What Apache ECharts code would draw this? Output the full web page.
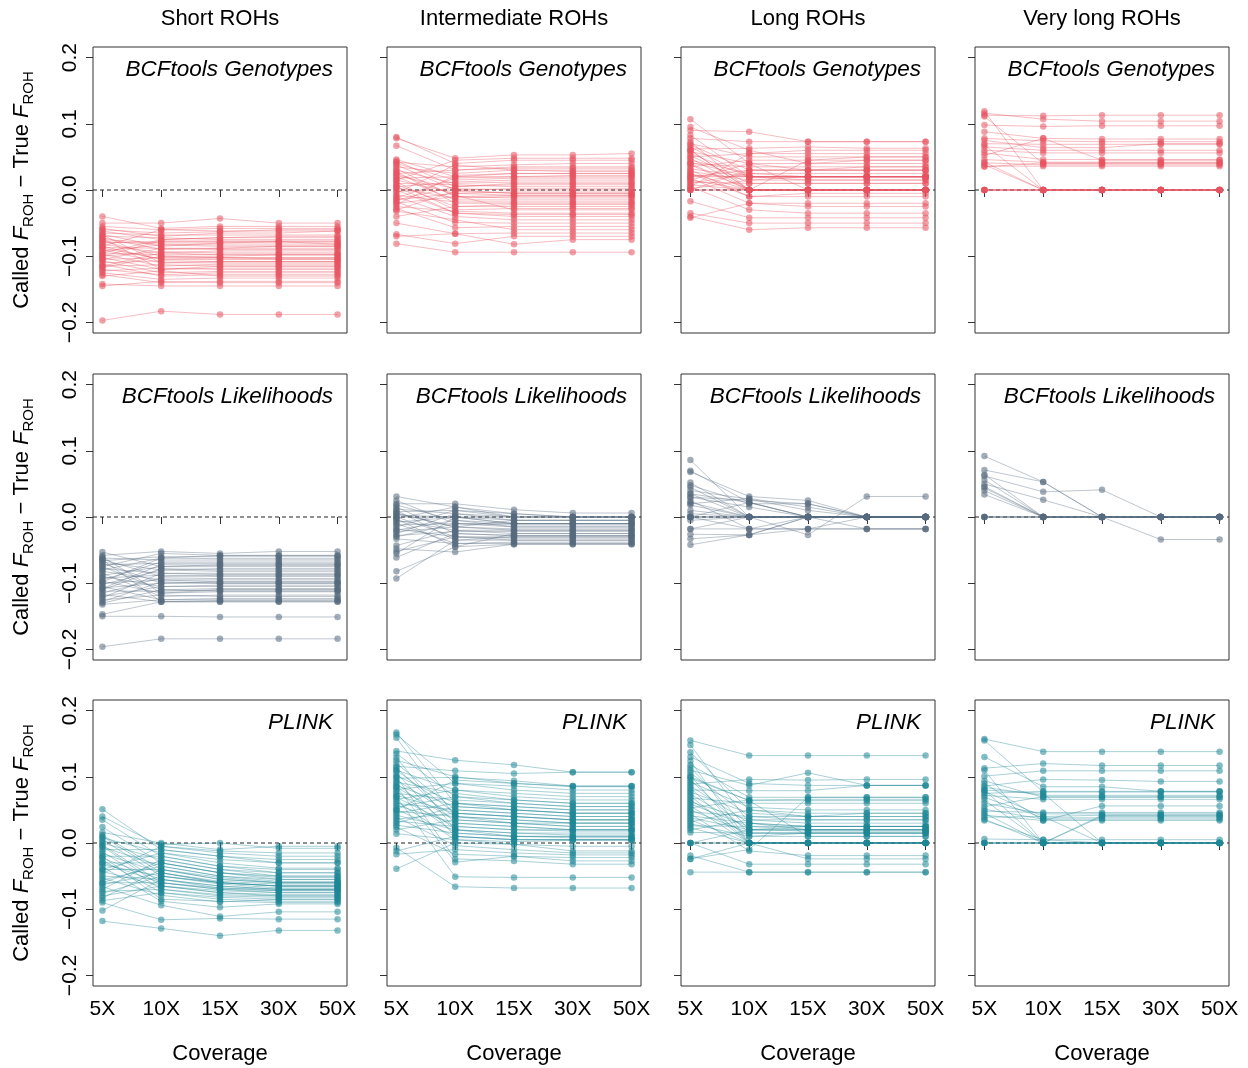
<!DOCTYPE html>
<html>
<head>
<meta charset="utf-8">
<script src="https://cdn.jsdelivr.net/npm/echarts@6/dist/echarts.min.js"></script>
<style>
html, body { margin: 0; padding: 0; background: #fff; }
#chart { width: 1248px; height: 1068px; }
</style>
</head>
<body>
<div id="chart"></div>
<script>
// categories / labels
var coverage = ['5X', '10X', '15X', '30X', '50X'];
var rohClasses = ['Short ROHs', 'Intermediate ROHs', 'Long ROHs', 'Very long ROHs'];
var methods = ['BCFtools Genotypes', 'BCFtools Likelihoods', 'PLINK'];
var yTicks = [-0.2, -0.1, 0, 0.1, 0.2];

// Called F_ROH - True F_ROH, one row per individual: [5X, 10X, 15X, 30X, 50X]
var gtShort = [
  [-.040,-.058,-.055,-.055,-.055],[-.050,-.050,-.043,-.050,-.050],[-.055,-.060,-.058,-.058,-.058],
  [-.058,-.070,-.065,-.065,-.062],[-.060,-.065,-.063,-.060,-.060],[-.062,-.075,-.072,-.072,-.072],
  [-.065,-.068,-.068,-.068,-.068],[-.067,-.085,-.080,-.078,-.078],[-.070,-.072,-.075,-.075,-.075],
  [-.072,-.090,-.088,-.085,-.085],[-.075,-.080,-.080,-.080,-.080],[-.077,-.100,-.100,-.098,-.098],
  [-.080,-.078,-.078,-.078,-.082],[-.082,-.095,-.092,-.092,-.092],[-.085,-.105,-.105,-.105,-.105],
  [-.087,-.088,-.088,-.088,-.088],[-.090,-.110,-.108,-.108,-.108],[-.092,-.083,-.085,-.085,-.085],
  [-.095,-.098,-.097,-.097,-.097],[-.097,-.115,-.112,-.112,-.112],[-.100,-.093,-.095,-.095,-.095],
  [-.102,-.120,-.118,-.118,-.118],[-.105,-.102,-.102,-.102,-.102],[-.107,-.125,-.123,-.123,-.123],
  [-.110,-.107,-.108,-.108,-.108],[-.112,-.130,-.128,-.128,-.128],[-.115,-.113,-.115,-.115,-.115],
  [-.117,-.100,-.102,-.104,-.104],[-.120,-.128,-.125,-.125,-.125],[-.122,-.118,-.120,-.120,-.120],
  [-.125,-.135,-.133,-.133,-.133],[-.128,-.140,-.138,-.138,-.138],[-.130,-.122,-.130,-.130,-.130],
  [-.142,-.145,-.145,-.145,-.145],[-.145,-.138,-.140,-.140,-.140],[-.085,-.060,-.062,-.062,-.062],
  [-.095,-.075,-.072,-.070,-.070],[-.105,-.088,-.090,-.090,-.090],[-.115,-.095,-.098,-.098,-.098],
  [-.068,-.110,-.110,-.110,-.110],[-.073,-.120,-.115,-.115,-.115],[-.197,-.183,-.188,-.188,-.188],
  [-.078,-.082,-.083,-.083,-.083],[-.088,-.104,-.103,-.103,-.103],[-.100,-.077,-.077,-.077,-.077]
];
var gtInter = [
  [.080,.040,.045,.045,.045],[.078,.048,.053,.053,.055],[.067,.030,.035,.035,.035],[.046,.020,.025,.025,.025],
  [.044,.005,.010,.010,.010],[.042,.035,.038,.040,.040],[.040,.015,.018,.018,.018],[.038,.000,-.005,-.005,-.005],
  [.035,.025,.030,.030,.030],[.032,-.010,-.008,-.008,-.008],[.030,.010,.012,.012,.012],[.028,-.020,-.020,-.020,-.020],
  [.025,.030,.033,.033,.033],[.022,.002,.000,.000,.000],[.020,-.015,-.015,-.015,-.015],[.018,.020,.020,.022,.022],
  [.015,-.005,-.003,-.003,-.003],[.012,-.030,-.028,-.028,-.028],[.010,.008,.005,.005,.005],[.008,-.025,-.022,-.022,-.022],
  [.005,.012,.015,.015,.015],[.003,-.012,-.010,-.010,-.010],[.000,-.035,-.037,-.037,-.037],[-.002,.000,.002,.002,.002],
  [-.005,.038,.030,.028,.028],[-.008,-.018,-.018,-.018,-.018],[-.010,-.040,-.045,-.045,-.045],[-.012,.018,.020,.020,.020],
  [-.015,-.005,-.008,-.008,-.008],[-.018,-.049,-.050,-.050,-.050],[-.020,-.010,-.012,-.012,-.012],[-.022,.022,.025,.025,.025],
  [-.025,-.032,-.035,-.035,-.035],[-.028,-.057,-.055,-.055,-.055],[-.030,-.002,-.005,-.005,-.005],[-.032,-.045,-.060,-.060,-.060],
  [-.050,-.066,-.065,-.065,-.065],[-.067,-.081,-.070,-.070,-.070],[-.070,-.066,-.082,-.075,-.075],[-.081,-.094,-.094,-.094,-.094],
  [.015,.045,.048,.048,.048],[-.040,-.025,-.025,-.025,-.025],[.005,-.035,-.040,-.040,-.040],[.025,-.008,-.030,-.030,-.030],
  [-.015,.005,.008,.008,.008]
];
var gtLong = [
  [.107,.040,.030,.030,.030],[.095,.060,.040,.040,.040],[.090,.088,.073,.073,.073],[.083,.020,.020,.020,.020],
  [.078,.073,.073,.073,.073],[.073,.000,.000,.000,.000],[.070,.050,.050,.050,.050],[.068,.030,.030,.035,.035],
  [.065,.020,.020,.020,.020],[.062,.063,.065,.063,.063],[.060,.000,.000,.000,.000],[.058,.040,.040,.045,.045],
  [.055,.020,.020,.020,.020],[.052,.010,.010,.010,.010],[.050,.055,.055,.055,.055],[.048,.000,.000,.000,.000],
  [.045,.025,.025,.025,.025],[.042,.020,.015,.015,.015],[.040,.035,.035,.035,.035],[.038,.000,.000,.000,.000],
  [.035,.045,.045,.045,.045],[.032,.020,.020,.020,.020],[.030,-.010,-.010,-.010,-.010],[.028,.015,.015,.015,.015],
  [.025,.000,.000,.000,.000],[.022,.020,.020,.020,.020],[.020,.030,.030,.030,.030],[.018,-.020,-.020,-.020,-.020],
  [.015,.000,.000,.000,.000],[.012,.010,.010,.010,.010],[.010,.025,.020,.020,.020],[.008,.000,.000,.000,.000],
  [.005,-.030,-.035,-.035,-.035],[.002,.015,.020,.020,.020],[.000,.000,.000,.000,.000],[.000,.000,.000,.000,.000],
  [.000,.030,.030,.030,.030],[-.017,-.042,-.042,-.042,-.042],[-.035,-.050,-.050,-.050,-.050],[-.040,-.060,-.057,-.057,-.057],
  [-.042,-.020,-.025,-.025,-.025],[.040,.000,.000,.000,.000],[.025,-.010,-.005,-.005,-.005],[.005,.055,.060,.060,.060],
  [.060,.000,.045,.050,.050],[.015,.040,.000,.000,.000],[.020,.020,.020,.020,.020]
];
var gtVlong = [
  [.119,.000,.000,.000,.000],[.116,.107,.104,.104,.104],[.113,.112,.113,.113,.113],[.111,.040,.040,.040,.040],
  [.098,.096,.097,.097,.097],[.088,.078,.077,.077,.077],[.078,.074,.073,.073,.073],[.075,.064,.064,.070,.070],
  [.070,.069,.069,.069,.069],[.068,.000,.000,.000,.000],[.065,.060,.060,.060,.060],[.060,.056,.056,.056,.056],
  [.056,.046,.046,.046,.046],[.052,.078,.045,.045,.045],[.046,.042,.042,.042,.042],[.042,.000,.000,.000,.000],
  [.041,.038,.038,.038,.038],[.038,.000,.000,.000,.000],[.036,.036,.036,.036,.036],[.035,.041,.041,.041,.041],
  [.000,.000,.000,.000,.000],[.000,.000,.000,.000,.000],[.000,.000,.000,.000,.000],[.000,.000,.000,.000,.000],
  [.000,.000,.000,.000,.000]
];
var blShort = [
  [-.053,-.075,-.072,-.072,-.072],[-.058,-.052,-.055,-.052,-.052],[-.062,-.065,-.065,-.065,-.065],
  [-.064,-.090,-.088,-.088,-.088],[-.066,-.060,-.060,-.060,-.060],[-.068,-.080,-.078,-.078,-.078],
  [-.070,-.100,-.098,-.098,-.098],[-.072,-.070,-.070,-.070,-.070],[-.075,-.110,-.108,-.108,-.108],
  [-.078,-.085,-.085,-.085,-.085],[-.080,-.062,-.058,-.058,-.058],[-.082,-.095,-.095,-.095,-.095],
  [-.085,-.120,-.118,-.118,-.118],[-.088,-.075,-.075,-.075,-.075],[-.090,-.105,-.103,-.103,-.103],
  [-.092,-.088,-.090,-.090,-.090],[-.095,-.068,-.068,-.068,-.068],[-.097,-.115,-.113,-.113,-.113],
  [-.100,-.095,-.098,-.098,-.098],[-.102,-.080,-.082,-.082,-.082],[-.105,-.125,-.123,-.123,-.123],
  [-.107,-.100,-.100,-.100,-.100],[-.110,-.078,-.080,-.080,-.080],[-.112,-.112,-.110,-.110,-.110],
  [-.115,-.092,-.093,-.093,-.093],[-.117,-.128,-.128,-.128,-.128],[-.120,-.105,-.105,-.105,-.105],
  [-.122,-.085,-.087,-.087,-.087],[-.125,-.118,-.120,-.120,-.120],[-.128,-.098,-.100,-.100,-.100],
  [-.130,-.110,-.112,-.112,-.112],[-.132,-.125,-.125,-.125,-.125],[-.147,-.128,-.128,-.128,-.128],
  [-.150,-.150,-.151,-.151,-.151],[-.196,-.184,-.184,-.184,-.184],[-.060,-.115,-.110,-.110,-.110],
  [-.065,-.128,-.126,-.126,-.126],[-.075,-.055,-.058,-.058,-.058],[-.098,-.062,-.063,-.063,-.063],
  [-.108,-.072,-.073,-.073,-.073]
];
var blInter = [
  [.031,.015,.005,.000,.000],[.025,-.010,-.015,-.015,-.015],[.020,.020,.011,.006,.006],[.015,-.025,-.028,-.028,-.028],
  [.012,.005,.000,.000,.000],[.010,-.035,-.035,-.035,-.035],[.008,.010,.005,.000,.000],[.005,-.015,-.020,-.020,-.020],
  [.003,.000,-.010,-.010,-.010],[.000,-.030,-.030,-.030,-.030],[.000,.000,.000,.000,.000],[-.002,.015,.000,.000,.000],
  [-.005,-.020,-.025,-.025,-.025],[-.008,.000,-.005,-.005,-.005],[-.010,-.040,-.040,-.040,-.040],[-.012,-.010,-.010,-.010,-.010],
  [-.015,.010,.000,.000,.000],[-.018,-.030,-.032,-.032,-.032],[-.020,-.005,-.010,-.010,-.010],[-.022,-.015,-.018,-.018,-.018],
  [-.025,.005,-.005,-.005,-.005],[-.028,-.022,-.022,-.022,-.022],[-.030,-.010,-.012,-.012,-.012],[-.033,-.040,-.038,-.038,-.038],
  [-.043,-.020,-.020,-.020,-.020],[-.048,-.053,-.041,-.041,-.041],[-.052,-.030,-.035,-.035,-.035],[-.055,.000,-.010,-.010,-.010],
  [-.061,-.025,-.028,-.028,-.028],[-.082,-.045,-.041,-.041,-.041],[-.093,-.035,-.030,-.030,-.030],[.018,-.005,-.015,-.015,-.015],
  [-.003,-.045,-.025,-.025,-.025],[.006,-.015,-.005,-.005,-.005]
];
var blLong = [
  [.086,.000,.000,.000,.000],[.070,.022,.000,.000,.000],[.068,.031,.025,.000,.000],[.052,.000,.000,.000,.000],
  [.048,.020,.020,.000,.000],[.045,.000,.000,.000,.000],[.040,.027,.010,.000,.000],[.035,.000,.000,.000,.000],
  [.030,.015,.000,.000,.000],[.025,-.018,.000,.000,.000],[.022,.000,.000,.000,.000],[.020,.028,.015,.000,.000],
  [.018,.000,.000,.000,.000],[.005,.000,.000,.000,.000],[.000,.000,.000,.000,.000],[.000,.000,.000,.000,.000],
  [.000,.022,.000,.000,.000],[-.005,.000,.000,.000,.000],[-.018,-.018,-.018,-.018,-.018],[-.026,-.027,.000,.000,.000],
  [-.042,-.027,.000,.000,.000],[.010,.000,-.027,.031,.031],[.000,-.018,-.018,-.018,-.018],[-.018,.000,.000,-.018,-.018],
  [.035,.022,.000,.000,.000],[.030,.025,.020,.000,.000],[-.033,-.027,-.018,.000,.000],[.000,.000,.000,.000,.000]
];
var blVlong = [
  [.092,.053,.000,.000,.000],[.071,.053,.000,.000,.000],[.064,.000,.000,.000,.000],[.062,.038,.041,.000,.000],
  [.056,.000,.000,.000,.000],[.050,.026,.000,-.034,-.034],[.046,.000,.000,.000,.000],[.044,.000,.000,.000,.000],
  [.040,.000,.000,.000,.000],[.034,.000,.000,.000,.000],[.000,.000,.000,.000,.000],[.000,.000,.000,.000,.000],
  [.000,.000,.000,.000,.000],[.000,.000,.000,.000,.000]
];
var plShort = [
  [.051,-.010,-.020,-.025,-.025],[.040,-.005,-.012,-.015,-.015],[.035,-.020,-.035,-.040,-.040],[.024,-.030,-.045,-.050,-.050],
  [.016,.000,-.010,-.005,-.005],[.012,-.040,-.055,-.060,-.060],[.008,-.015,-.025,-.030,-.030],[.005,-.050,-.060,-.065,-.065],
  [.002,-.002,.000,-.008,-.008],[.000,-.025,-.040,-.045,-.045],[-.003,-.060,-.070,-.072,-.072],[-.006,-.035,-.050,-.055,-.055],
  [-.010,-.010,-.020,-.030,-.030],[-.013,-.070,-.080,-.082,-.082],[-.016,-.045,-.060,-.065,-.065],[-.020,-.020,-.035,-.045,-.045],
  [-.023,-.055,-.065,-.070,-.070],[-.026,-.075,-.085,-.088,-.088],[-.030,-.030,-.045,-.055,-.055],[-.033,-.050,-.062,-.068,-.068],
  [-.036,-.088,-.097,-.092,-.092],[-.040,-.040,-.055,-.060,-.060],[-.043,-.065,-.075,-.078,-.078],[-.046,-.005,-.015,-.020,-.020],
  [-.050,-.055,-.068,-.072,-.072],[-.053,-.079,-.089,-.085,-.085],[-.056,-.035,-.050,-.058,-.058],[-.060,-.060,-.070,-.075,-.075],
  [-.063,-.045,-.058,-.062,-.062],[-.066,-.094,-.111,-.104,-.104],[-.070,-.025,-.040,-.050,-.050],[-.073,-.070,-.078,-.080,-.080],
  [-.076,-.050,-.060,-.065,-.065],[-.080,-.065,-.072,-.075,-.075],[-.083,-.040,-.052,-.060,-.060],[-.087,-.075,-.082,-.085,-.085],
  [-.102,-.055,-.065,-.070,-.070],[-.118,-.129,-.140,-.132,-.132],[-.090,-.116,-.114,-.115,-.115],[-.020,-.085,-.088,-.090,-.090],
  [-.040,-.015,-.030,-.038,-.038],[-.005,-.065,-.075,-.080,-.080],[-.060,-.030,-.045,-.052,-.052],[.010,-.045,-.060,-.065,-.065],
  [-.030,-.060,-.068,-.070,-.070]
];
var plInter = [
  [.167,.060,.050,.045,.045],[.164,.090,.080,.075,.075],[.159,.040,.035,.030,.030],[.139,.125,.118,.107,.107],
  [.135,.070,.060,.055,.055],[.129,.020,.015,.012,.012],[.125,.100,.090,.085,.085],[.120,.050,.045,.040,.040],
  [.116,.109,.105,.107,.107],[.114,.030,.025,.020,.020],[.110,.080,.070,.065,.065],[.106,.010,.005,.005,.005],
  [.102,.060,.055,.050,.050],[.098,.099,.094,.086,.086],[.095,.040,.030,.025,.025],[.092,.075,.065,.060,.060],
  [.090,.020,.010,.010,.010],[.087,.055,.050,.045,.045],[.084,.035,.030,.030,.030],[.081,.090,.086,.080,.080],
  [.078,.015,.010,.008,.008],[.075,.065,.060,.055,.055],[.072,.045,.040,.035,.035],[.069,.025,.020,.018,.018],
  [.066,.080,.075,.070,.070],[.063,.005,-.002,-.012,-.012],[.060,.050,.045,.040,.040],[.057,.030,.025,.020,.020],
  [.054,.070,.065,.060,.060],[.051,.010,.005,.005,.005],[.048,.040,.035,.030,.030],[.045,.060,.055,.050,.050],
  [.042,.020,.015,.015,.015],[.039,-.004,-.010,-.015,-.015],[.036,.045,.040,.035,.035],[.033,.025,.020,.020,.020],
  [.030,.055,.050,.045,.045],[.027,.015,.010,.010,.010],[.024,-.017,-.020,-.022,-.022],[.020,.035,.030,.025,.025],
  [.014,.005,.002,.004,.004],[.100,-.024,-.027,-.032,-.032],[.085,-.029,-.020,-.027,-.027],[.070,-.051,-.052,-.052,-.052],
  [-.007,-.066,-.068,-.068,-.068],[-.012,.010,.005,.005,.005],[-.017,-.010,-.015,-.018,-.018],[-.039,.000,-.002,-.005,-.005],
  [.050,.095,.090,.086,.086],[.110,.045,.040,.035,.035]
];
var plLong = [
  [.155,.132,.132,.132,.132],[.148,.030,.020,.020,.020],[.137,.050,.040,.040,.040],[.124,.000,.000,.000,.000],
  [.118,.069,.069,.069,.069],[.114,.020,.020,.020,.020],[.110,.087,.106,.087,.087],[.106,.040,.035,.035,.035],
  [.102,.000,.000,.000,.000],[.098,.064,.064,.064,.064],[.095,.015,.015,.015,.015],[.092,.054,.050,.050,.050],
  [.089,.096,.095,.096,.096],[.086,.030,.025,.025,.025],[.083,.000,-.024,-.024,-.024],[.080,.079,.079,.087,.087],
  [.077,.045,.040,.040,.040],[.074,.020,.018,.018,.018],[.071,.000,.000,.000,.000],[.068,.060,.060,.060,.060],
  [.065,.010,.015,.015,.015],[.062,.035,.030,.030,.030],[.059,.025,.020,.020,.020],[.056,.000,.000,.000,.000],
  [.053,.065,.066,.066,.066],[.050,.015,.015,.015,.015],[.047,.040,.040,.045,.045],[.044,-.012,-.019,-.019,-.019],
  [.041,.030,.025,.025,.025],[.038,.020,.020,.020,.020],[.035,.000,.000,.000,.000],[.032,.050,.045,.045,.045],
  [.029,.010,.010,.010,.010],[.026,.025,.025,.025,.025],[.023,.000,.000,.000,.000],[.020,.035,.035,.035,.035],
  [.016,.015,.015,.015,.015],[.000,.000,.000,.000,.000],[.000,.000,.000,.000,.000],[.000,.020,.025,.025,.025],
  [.000,-.032,-.032,-.032,-.032],[-.019,-.044,-.044,-.044,-.044],[-.024,.000,.000,.000,.000],[-.024,-.010,.069,.069,.069],
  [-.044,-.044,-.044,-.044,-.044],[.130,.090,.087,.087,.087],[.100,.064,.010,.010,.010]
];
var plVlong = [
  [.157,.138,.138,.138,.138],[.155,.077,.077,.077,.077],[.130,.085,.085,.078,.078],[.113,.120,.117,.117,.117],
  [.110,.000,.000,.000,.000],[.101,.109,.109,.109,.109],[.094,.069,.069,.069,.069],[.090,.034,.056,.056,.056],
  [.086,.096,.095,.093,.093],[.084,.072,.072,.072,.072],[.080,.000,.040,.040,.040],[.078,.040,.000,.000,.000],
  [.075,.078,.078,.078,.078],[.072,.066,.066,.066,.066],[.069,.038,.038,.038,.038],[.065,.000,.000,.000,.000],
  [.060,.044,.044,.044,.044],[.055,.070,.070,.070,.070],[.051,.036,.036,.036,.036],[.048,.046,.046,.046,.046],
  [.045,.000,.000,.000,.000],[.042,.034,.034,.034,.034],[.039,.040,.042,.042,.042],[.036,.000,.000,.000,.000],
  [.034,.005,.000,.000,.000],[.006,.005,.005,.005,.005],[.000,.000,.000,.000,.000],[.000,.000,.000,.000,.000],
  [.000,.000,.042,.042,.042],[.080,.075,.000,.000,.000],[.000,.000,.000,.000,.000]
];

var panels = [
  [gtShort, gtInter, gtLong, gtVlong],
  [blShort, blInter, blLong, blVlong],
  [plShort, plInter, plLong, plVlong]
];
var rowColors = ['232,82,94', '85,105,125', '30,135,150'];

var font = '"Liberation Sans", Arial, Helvetica, sans-serif';

function fmtY(v) {
  if (Math.abs(v) < 1e-9) return '0.0';
  return (v < 0 ? '\u2212' : '') + Math.abs(v).toFixed(1);
}

function buildOption() {
  var grids = [], xAxes = [], yAxes = [], series = [], texts = [];
  var W = 254, H = 286;

  for (var r = 0; r < 3; r++) {
    for (var c = 0; c < 4; c++) {
      var idx = r * 4 + c;
      var gx = 93 + c * 294;
      var gy = 47 + Math.round(r * 326.5);
      grids.push({ left: gx, top: gy, width: W, height: H, show: true,
        borderColor: '#333', borderWidth: 1, backgroundColor: 'transparent' });

      xAxes.push({
        type: 'value', gridIndex: idx, min: 0.84, max: 5.16,
        axisLine: { show: false }, splitLine: { show: false },
        axisTick: { show: true, length: 7, customValues: [1, 2, 3, 4, 5], lineStyle: { color: '#333' } },
        axisLabel: { show: r === 2, customValues: [1, 2, 3, 4, 5], margin: 13,
          formatter: function (v) { return coverage[Math.round(v) - 1]; },
          fontSize: 21, color: '#000', fontFamily: font },
        name: r === 2 ? 'Coverage' : '', nameLocation: 'middle', nameGap: 57,
        nameTextStyle: { fontSize: 22, color: '#000', fontFamily: font }
      });

      yAxes.push({
        type: 'value', gridIndex: idx, min: -0.216, max: 0.216,
        axisLine: { show: false }, splitLine: { show: false },
        axisTick: { show: true, length: 7, customValues: yTicks, lineStyle: { color: '#333' } },
        axisLabel: { show: c === 0, customValues: yTicks, rotate: 90, margin: 12,
          formatter: fmtY, fontSize: 21, color: '#000', fontFamily: font },
        name: c === 0 ? '{a|Called }{b|F}{s|ROH}{a| \u2212 True }{b|F}{s|ROH}' : '',
        nameLocation: 'middle', nameRotate: 90, nameGap: 57,
        nameTextStyle: {
          color: '#000', fontFamily: font,
          rich: {
            a: { fontSize: 22, lineHeight: 28, verticalAlign: 'middle', color: '#000', fontFamily: font },
            b: { fontSize: 22, lineHeight: 28, verticalAlign: 'middle', fontStyle: 'italic', color: '#000', fontFamily: font },
            s: { fontSize: 15, lineHeight: 15, verticalAlign: 'bottom', color: '#000', fontFamily: font }
          }
        }
      });

      // dashed reference line at zero, drawn beneath the data
      series.push({
        type: 'line', xAxisIndex: idx, yAxisIndex: idx,
        data: [[0.84, 0], [5.16, 0]], symbol: 'none',
        lineStyle: { color: '#222', width: 1, type: [4, 3] },
        silent: true, animation: false, z: 1
      });

      var col = rowColors[r];
      panels[r][c].forEach(function (vals) {
        series.push({
          type: 'line', xAxisIndex: idx, yAxisIndex: idx,
          data: vals.map(function (v, i) { return [i + 1, v]; }),
          symbol: 'circle', symbolSize: 6.5,
          lineStyle: { width: 1, color: 'rgba(' + col + ',0.38)' },
          itemStyle: { color: 'rgba(' + col + ',0.55)', borderWidth: 0 },
          silent: true, animation: false, emphasis: { disabled: true }, z: 2
        });
      });

      texts.push({
        type: 'text', x: gx + W - 14, y: gy + 23,
        style: { text: methods[r], font: 'italic 22.5px ' + font, fill: '#000',
          textAlign: 'right', textVerticalAlign: 'middle' }
      });
      if (r === 0) {
        texts.push({
          type: 'text', x: gx + W / 2, y: 19,
          style: { text: rohClasses[c], font: '22px ' + font, fill: '#000',
            textAlign: 'center', textVerticalAlign: 'middle' }
        });
      }
    }
  }

  return {
    backgroundColor: '#fff',
    animation: false,
    grid: grids,
    xAxis: xAxes,
    yAxis: yAxes,
    series: series,
    graphic: texts
  };
}

var chart = echarts.init(document.getElementById('chart'));
chart.setOption(buildOption());
</script>
</body>
</html>
